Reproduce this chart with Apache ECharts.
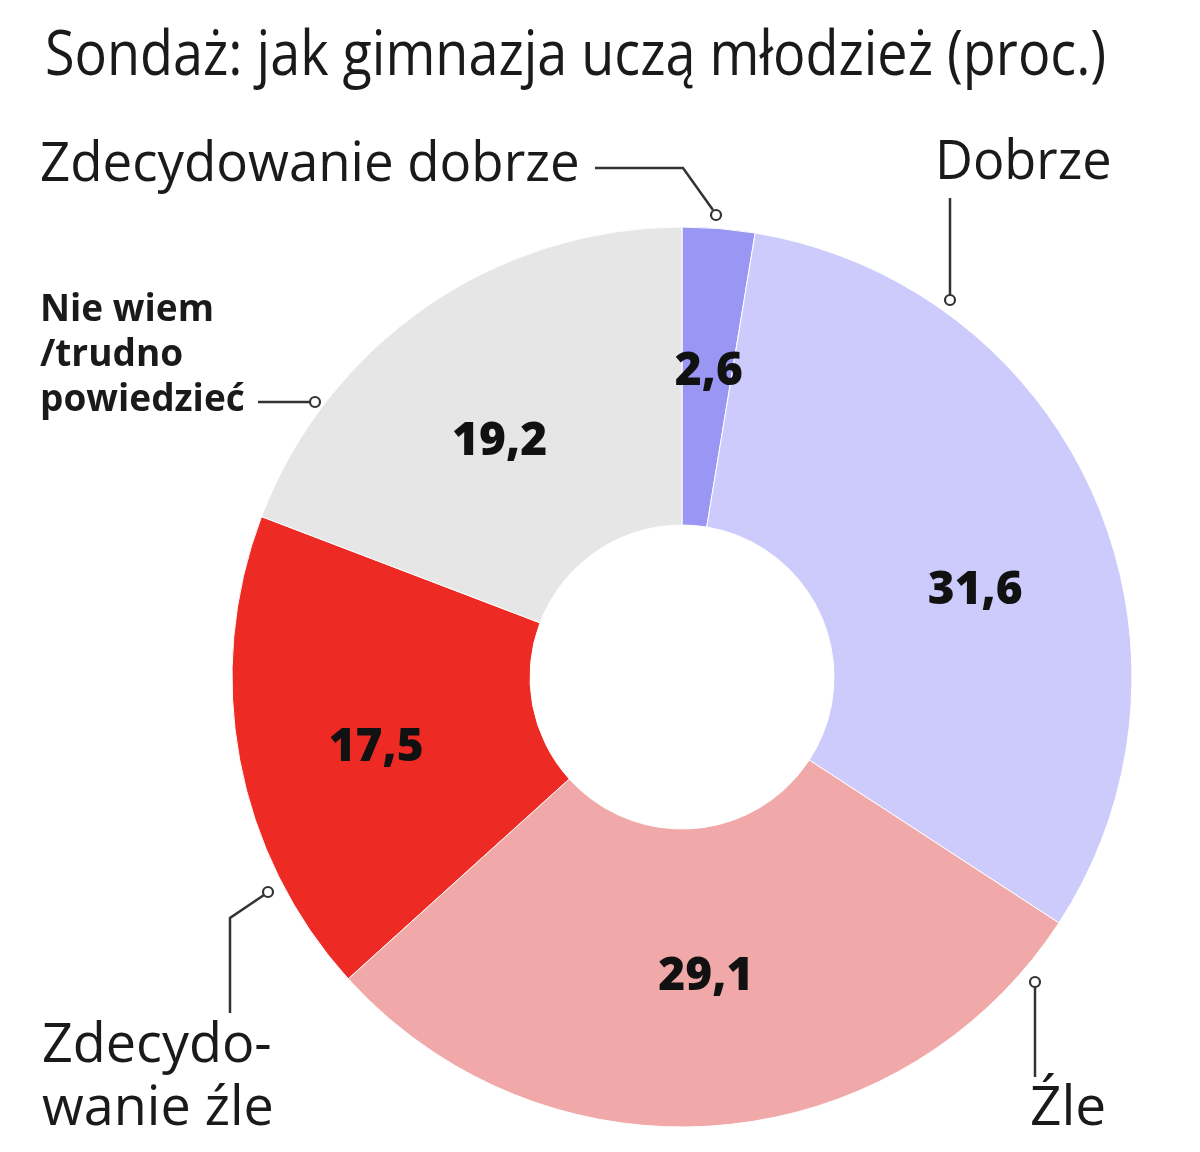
<!DOCTYPE html>
<html>
<head>
<meta charset="utf-8">
<script src="https://cdn.jsdelivr.net/npm/echarts@6/dist/echarts.min.js"></script>
<style>
  html, body { margin: 0; padding: 0; background: #fff; }
  #chart { width: 1200px; height: 1152px; }
</style>
</head>
<body>
<div id="chart"></div>
<script>
// data
const categories = ['Zdecydowanie dobrze', 'Dobrze', 'Źle', 'Zdecydowanie źle', 'Nie wiem /trudno powiedzieć'];
const values = [2.6, 31.6, 29.1, 17.5, 19.2];
const sliceColors = ['#9a96f4', '#cdcbfb', '#f0a9a8', '#ee2a24', '#e6e6e6'];
const titleText = 'Sondaż: jak gimnazja uczą młodzież (proc.)';

const ink = '#1a1a1a';
const lineInk = '#333';
const font = "'Open Sans', 'Noto Sans', sans-serif";

// small nudges so the value labels sit where the original put them
const labelNudge = [[2, -2], [15, 36], [0, -3], [-7, 15], [-10, 15]];

// callout annotations (labels + leader lines)
function calloutText(text, x, y, size, weight, extra) {
    return Object.assign({
        type: 'text', x: x, y: y, scaleX: 0.96, silent: true,
        style: {
            text: text, fill: ink, fontFamily: font, fontSize: size, fontWeight: weight,
            textVerticalAlign: 'middle', verticalAlign: 'middle'
        }
    }, extra || {});
}
function leader(points) {
    return {
        type: 'polyline', silent: true,
        shape: { points: points },
        style: { stroke: lineInk, lineWidth: 2.5, fill: null }
    };
}
function dot(x, y) {
    return {
        type: 'circle', silent: true, z: 10,
        shape: { cx: x, cy: y, r: 5 },
        style: { fill: '#fff', stroke: lineInk, lineWidth: 2.2 }
    };
}

document.addEventListener('DOMContentLoaded', () => {
    const chart = echarts.init(document.getElementById('chart'), null, { renderer: 'canvas' });

    const graphics = [
        calloutText(titleText, 45, 57, 62, 'normal', { scaleX: 0.87 }),

        calloutText('Zdecydowanie dobrze', 40, 165, 55, 'normal'),
        leader([[595, 168], [683, 168], [713, 210]]),
        dot(716, 215),

        calloutText('Dobrze', 935, 163, 55, 'normal', { scaleX: 0.95 }),
        leader([[950, 198], [950, 295]]),
        dot(950, 300),

        {
            type: 'text', x: 40, y: 355, silent: true,
            style: {
                text: 'Nie wiem\n/trudno\npowiedzieć', fill: ink, fontFamily: font,
                fontSize: 37, fontWeight: 'bold', lineHeight: 45,
                textVerticalAlign: 'middle', verticalAlign: 'middle'
            }
        },
        leader([[258, 402], [310, 402]]),
        dot(315, 402),

        {
            type: 'text', x: 42, y: 1078, scaleX: 0.98, silent: true,
            style: {
                text: 'Zdecydo-\nwanie źle', fill: ink, fontFamily: font,
                fontSize: 55, lineHeight: 63,
                textVerticalAlign: 'middle', verticalAlign: 'middle'
            }
        },
        leader([[230, 1013], [230, 918], [264, 895]]),
        dot(268, 892),

        calloutText('Źle', 1030, 1109, 55, 'normal', { scaleX: 1 }),
        leader([[1035, 1077], [1035, 987]]),
        dot(1035, 982)
    ];

    const option = {
        backgroundColor: '#fff',
        animation: false,
        graphic: graphics,
        series: [{
            type: 'pie',
            center: [682, 677],
            radius: [152, 450],
            startAngle: 90,
            clockwise: true,
            silent: true,
            itemStyle: { borderColor: '#fff', borderWidth: 1 },
            label: {
                show: true,
                position: 'inside',
                formatter: (p) => String(p.value).replace('.', ','),
                color: '#111',
                fontFamily: font,
                fontSize: 46,
                fontWeight: 800
            },
            labelLayout: (p) => ({ dx: labelNudge[p.dataIndex][0], dy: labelNudge[p.dataIndex][1] }),
            labelLine: { show: false },
            emphasis: { disabled: true },
            data: categories.map((c, i) => ({
                name: c,
                value: values[i],
                itemStyle: { color: sliceColors[i] }
            }))
        }]
    };

    chart.setOption(option);

    window.addEventListener('resize', () => {
        chart.resize();
    });
});
</script>
</body>
</html>
